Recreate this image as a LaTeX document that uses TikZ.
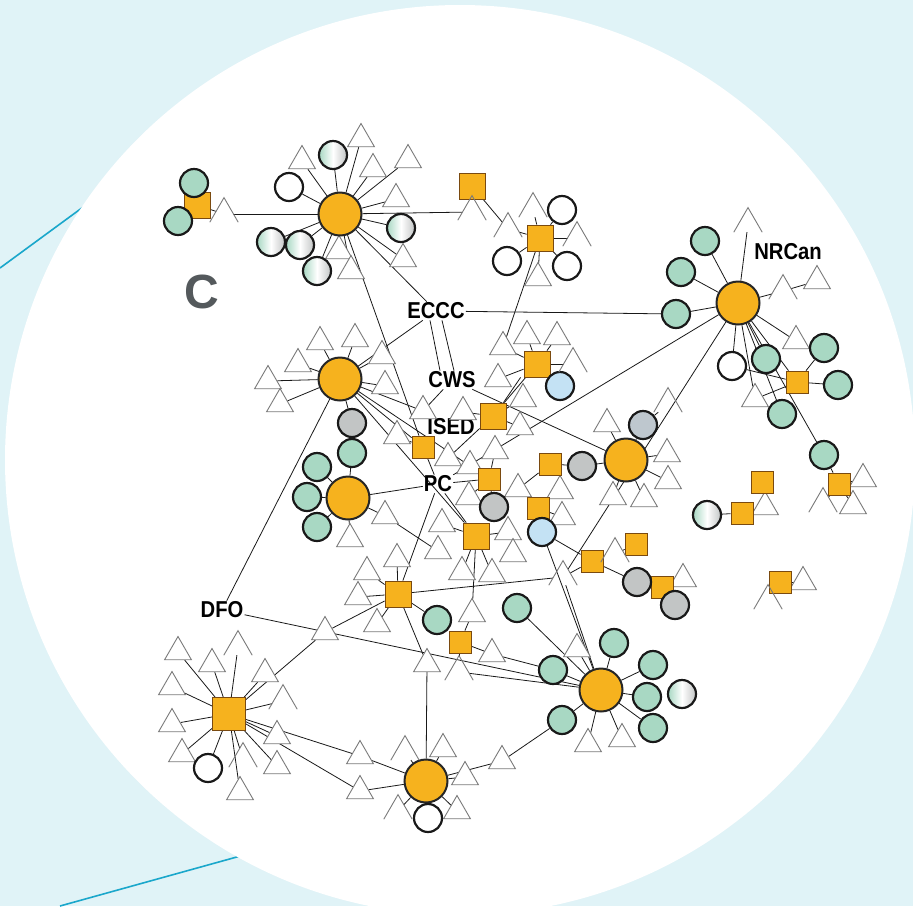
\documentclass[tikz,border=0pt]{standalone}
\usepackage{fontspec}
\setmainfont{Liberation Sans}
\newfontfamily\labfont[FakeStretch=0.88]{Liberation Sans}
\usetikzlibrary{shapes.geometric}
\pgfdeclarelayer{bg}
\pgfdeclarelayer{edges}
\pgfsetlayers{bg,edges,main}
\definecolor{bgblue}{HTML}{E0F3F7}
\definecolor{cyanline}{HTML}{1AA7CB}
\definecolor{orng}{HTML}{F6B21E}
\definecolor{grn}{HTML}{A8D8C3}
\definecolor{gry}{HTML}{C2C5C5}
\definecolor{bgry}{HTML}{BEC7CE}
\definecolor{lblu}{HTML}{C4E2F4}
\definecolor{sqline}{HTML}{7A4A10}
\definecolor{trline}{HTML}{7A7A7A}
\definecolor{cgray}{HTML}{54595C}
\begin{document}
\begin{tikzpicture}[x=1pt,y=-1pt,
  hub/.style={circle,minimum size=43pt,inner sep=0pt,fill=orng,draw=black!85,line width=2pt},
  sq/.style={rectangle,minimum size=22pt,inner sep=0pt,fill=orng,draw=sqline,line width=0.8pt},
  bsq/.style={sq,minimum size=26pt},
  hsq/.style={sq,minimum size=33pt},
  circ/.style={circle,minimum size=28pt,inner sep=0pt,draw=black!90,line width=2.2pt},
  gc/.style={circ,fill=grn},
  wc/.style={circ,fill=white},
  yc/.style={circ,fill=gry},
  bc/.style={circ,fill=bgry},
  lc/.style={circ,fill=lblu},
  hc/.style={circ,left color=grn,right color=gry,middle color=white},
  tri/.style={regular polygon,regular polygon sides=3,minimum size=31pt,inner sep=0pt,fill=white,draw=trline,line width=0.9pt,yshift=-4pt},
  ptri/.style={tri,draw=none,fill=none},
  triline/.style={draw=trline,line width=0.9pt},
  edge/.style={draw=black!90,line width=0.8pt},
  lab/.style={font=\labfont\bfseries\fontsize{23}{23}\selectfont,inner sep=1pt,text=black}
]
\useasboundingbox (0,0) rectangle (913,906);
\clip (0,0) rectangle (913,906);
\begin{pgfonlayer}{bg}
\fill[bgblue] (0,0) rectangle (913,906);
\draw[cyanline,line width=1.6pt] (0,268) -- (90,202);
\draw[cyanline,line width=1.6pt] (60,906) -- (262,850);
\fill[white] (460,460) circle [radius=455pt];
\end{pgfonlayer}

\node[font=\bfseries\fontsize{48}{48}\selectfont,text=cgray] (Clab) at (202,292) {C};

% labels
\node[lab] (ECCC) at (436,311) {ECCC};
\node[lab] (CWS) at (452,380) {CWS};
\node[lab] (ISED) at (451,427) {ISED};
\node[lab] (PC) at (438,484) {PC};
\node[lab] (NRCan) at (788,252) {NRCan};
\node[lab] (DFO) at (222,610) {DFO};

% triangles
\node[tri] (t1) at (361,135) {};
\node[tri] (t2) at (302,157) {};
\node[tri] (t3) at (408,156) {};
\node[tri] (t4) at (373,165) {};
\node[tri] (t5) at (396,195) {};
\node[ptri] (t6) at (224,210) {};
\node[tri] (t7) at (339,247) {};
\node[tri] (t8) at (351,267) {};
\node[tri] (t9) at (403,255) {};
\node[ptri] (ts2) at (472,208) {};
\node[ptri] (t10) at (508,225) {};
\node[ptri] (t11) at (533,205) {};
\node[ptri] (t12) at (577,234) {};
\node[tri] (t13) at (538,274) {};
\node[tri] (t14) at (320,338) {};
\node[tri] (t15) at (355,335) {};
\node[tri] (t16) at (298,360) {};
\node[tri] (t17) at (268,377) {};
\node[tri] (t18) at (280,400) {};
\node[tri] (t19) at (382,352) {};
\node[tri] (t20) at (385,382) {};
\node[tri] (t21) at (423,407) {};
\node[tri] (t22) at (397,432) {};
\node[tri] (t23) at (463,408) {};
\node[tri] (t24) at (527,332) {};
\node[tri] (t25) at (557,333) {};
\node[tri] (t26) at (503,343) {};
\node[ptri] (t27) at (573,360) {};
\node[tri] (t28) at (498,375) {};
\node[tri] (t29) at (523,395) {};
\node[tri] (t30) at (520,423) {};
\node[tri] (t31) at (495,447) {};
\node[tri] (t32) at (470,462) {};
\node[tri] (t33) at (448,454) {};
\node[tri] (t35) at (469,493) {};
\node[tri] (t36) at (442,520) {};
\node[tri] (t37) at (438,547) {};
\node[tri] (t38) at (508,528) {};
\node[tri] (t39) at (397,555) {};
\node[tri] (t40) at (367,568) {};
\node[tri] (t41) at (462,568) {};
\node[tri] (t42) at (492,570) {};
\node[tri] (t43) at (358,593) {};
\node[tri] (t44) at (472,610) {};
\node[tri] (t45) at (385,512) {};
\node[tri] (t46) at (350,535) {};
\node[tri] (t47) at (607,420) {};
\node[ptri] (t48) at (668,400) {};
\node[tri] (t49) at (667,450) {};
\node[tri] (t50) at (668,477) {};
\node[tri] (t51) at (613,493) {};
\node[tri] (t52) at (644,495) {};
\node[tri] (t53) at (518,485) {};
\node[tri] (t54) at (560,487) {};
\node[tri] (t55) at (562,513) {};
\node[tri] (t56) at (513,550) {};
\node[ptri] (t57) at (615,550) {};
\node[ptri] (t58) at (563,573) {};
\node[tri] (t59) at (683,575) {};
\node[tri] (t60) at (765,503) {};
\node[tri] (t61) at (863,475) {};
\node[ptri] (t62) at (823,500) {};
\node[tri] (t63) at (853,502) {};
\node[tri] (t64) at (803,578) {};
\node[ptri] (t65) at (768,597) {};
\node[ptri] (t66) at (748,220) {};
\node[tri] (t67) at (817,277) {};
\node[ptri] (t68) at (783,287) {};
\node[tri] (t69) at (796,337) {};
\node[tri] (t70) at (755,395) {};
\node[tri] (t72) at (492,650) {};
\node[tri] (t73) at (427,660) {};
\node[ptri] (t74) at (459,668) {};
\node[tri] (t75) at (577,645) {};
\node[tri] (t76) at (588,740) {};
\node[tri] (t77) at (622,735) {};
\node[tri] (t78) at (502,757) {};
\node[ptri] (t79) at (405,748) {};
\node[tri] (t80) at (443,745) {};
\node[tri] (t81) at (465,773) {};
\node[tri] (t82) at (457,807) {};
\node[ptri] (t83) at (398,807) {};
\node[tri] (t84) at (178,648) {};
\node[tri] (t85) at (212,660) {};
\node[ptri] (t86) at (238,643) {};
\node[tri] (t87) at (265,670) {};
\node[tri] (t88) at (172,683) {};
\node[ptri] (t89) at (283,697) {};
\node[tri] (t90) at (172,720) {};
\node[tri] (t91) at (182,750) {};
\node[tri] (t92) at (277,732) {};
\node[tri] (t93) at (277,762) {};
\node[ptri] (t94) at (243,755) {};
\node[tri] (t95) at (240,788) {};
\node[tri] (t96) at (325,628) {};
\node[tri] (t97) at (377,620) {};
\node[tri] (t98) at (360,752) {};
\node[tri] (t99) at (360,787) {};

% hubs
\node[hub] (h1) at (340,214) {};
\node[hub] (h2) at (738,303) {};
\node[hub] (h3) at (340,379) {};
\node[hub] (h4) at (626,460) {};
\node[hub] (h5) at (348,498) {};
\node[hub] (h6) at (601,690) {};
\node[hub] (h7) at (426,781) {};

% squares
\node[bsq] (s1) at (197,205) {};
\node[bsq] (s2) at (472,186) {};
\node[bsq] (s3) at (540,238) {};
\node[bsq] (s4) at (537,364) {};
\node[bsq] (s5) at (493,416) {};
\node[sq] (s6) at (423,447) {};
\node[sq] (s7) at (489,479) {};
\node[sq] (s8) at (550,464) {};
\node[sq] (s9) at (538,508) {};
\node[bsq] (s10) at (476,536) {};
\node[bsq] (s11) at (398,594) {};
\node[sq] (s12) at (460,642) {};
\node[sq] (s13) at (592,561) {};
\node[sq] (s14) at (636,544) {};
\node[sq] (s15) at (662,587) {};
\node[sq] (s16) at (797,382) {};
\node[sq] (s17) at (762,482) {};
\node[sq] (s18) at (742,513) {};
\node[sq] (s19) at (839,484) {};
\node[sq] (s20) at (780,582) {};
\node[hsq] (sb) at (229,714) {};

% circles
\node[gc] (g1) at (194,183) {};
\node[gc] (g2) at (178,221) {};
\node[gc] (g3) at (705,241) {};
\node[gc] (g4) at (681,272) {};
\node[gc] (g5) at (676,314) {};
\node[gc] (g6) at (766,359) {};
\node[gc] (g7) at (824,348) {};
\node[gc] (g8) at (838,385) {};
\node[gc] (g9) at (782,414) {};
\node[gc] (g10) at (824,455) {};
\node[gc] (g11) at (352,453) {};
\node[gc] (g12) at (317,467) {};
\node[gc] (g13) at (307,497) {};
\node[gc] (g14) at (317,527) {};
\node[gc] (g15) at (437,620) {};
\node[gc] (g16) at (517,608) {};
\node[gc] (g17) at (614,643) {};
\node[gc] (g18) at (553,670) {};
\node[gc] (g19) at (653,665) {};
\node[gc] (g20) at (647,697) {};
\node[gc] (g21) at (653,728) {};
\node[gc] (g22) at (562,720) {};
\node[wc] (w1) at (289,187) {};
\node[wc] (w2) at (562,210) {};
\node[wc] (w3) at (507,261) {};
\node[wc] (w4) at (567,266) {};
\node[wc] (w5) at (732,366) {};
\node[wc] (w6) at (208,768) {};
\node[wc] (w7) at (428,818) {};
\node[yc] (y1) at (352,423) {};
\node[bc] (y2) at (643,425) {};
\node[yc] (y3) at (582,466) {};
\node[yc] (y4) at (494,507) {};
\node[yc] (y5) at (637,582) {};
\node[yc] (y6) at (675,605) {};
\node[hc] (hc1) at (333,155) {};
\node[hc] (hc2) at (401,228) {};
\node[hc] (hc3) at (271,242) {};
\node[hc] (hc4) at (300,245) {};
\node[hc] (hc5) at (317,271) {};
\node[hc] (hc6) at (707,515) {};
\node[hc] (hc7) at (682,694) {};
\node[lc] (b1) at (560,386) {};
\node[lc] (b2) at (542,532) {};

% partial triangles (no base)
\foreach \n in {t6,ts2,t10,t11,t12,t27,t48,t57,t58,t62,t65,t66,t68,t74,t79,t83,t86,t89,t94}
  \draw[triline] (\n.corner 2) -- (\n.corner 1) -- (\n.corner 3);

\begin{pgfonlayer}{edges}
\foreach \a/\b in {h1/t1,h1/t2,h1/t3,h1/t4,h1/t5,h1/hc1,h1/w1,h1/hc2,h1/hc3,h1/hc4,h1/hc5,h1/t7,h1/t8,h1/t9,h1/t6,h1/ts2,h1/ECCC,h1/s6,
  s1/t6,ts2/s2,s2/t10,t10/s3,s3/t11,s3/w2,s3/t12,s3/w3,s3/w4,s3/t13,s3/t26,
  ECCC/g5,g5/h2,ECCC/h3,CWS/h4,CWS/t21,
  h3/t14,h3/t15,h3/t16,h3/t17,h3/t18,h3/t19,h3/t20,h3/y1,h3/DFO,h3/t21,h3/s6,h3/t32,h3/s10,
  h2/g3,h2/g4,h2/t66,h2/t68,h2/g6,h2/w5,h2/t69,h2/s16,h2/t70,h2/g9,h2/g10,h2/t58,h2/PC,
  t68/t67,s16/g7,s16/g8,s16/w5,s16/t70,g10/s19,s19/t61,s19/t62,s19/t63,
  s17/t60,s18/t60,s18/hc6,s20/t64,s20/t65,
  h4/t47,h4/y2,h4/t49,h4/t50,h4/t51,h4/t52,h4/y3,y3/s8,s8/t53,t48/y2,
  s4/t24,s4/t25,s4/t26,s4/t27,s4/b1,s4/t28,s4/s5,
  s5/t29,s5/t30,s5/t23,s5/t33,
  s6/t22,s6/PC,PC/h5,PC/s11,PC/s7,PC/s10,
  s7/t35,s7/t31,s7/y4,s9/b2,s9/t55,s9/t54,
  s10/t36,s10/t38,s10/t41,s10/t42,s10/t44,t44/s12,
  s11/t39,s11/t40,s11/t43,s11/t96,s11/t97,s11/g15,s11/t73,s11/t58,
  s12/t72,s12/t74,t72/g18,DFO/h6,t74/h6,t73/h7,
  h7/t79,h7/t80,h7/t81,h7/t82,h7/t83,h7/w7,h7/t98,h7/t99,h7/t78,t78/g22,
  h6/g17,h6/g18,h6/g19,h6/g20,h6/g21,h6/g22,h6/t76,h6/t77,h6/t75,h6/t58,h6/b2,h6/g16,
  b2/s13,s13/y5,s13/t57,s13/t58,s15/y6,s15/t59,s15/y5,s14/t57,
  sb/t84,sb/t85,sb/t86,sb/t87,sb/t88,sb/t89,sb/t90,sb/t91,sb/t92,sb/t93,sb/t94,sb/t95,sb/w6,sb/t96,sb/t98,sb/t99,
  h5/g11,h5/g12,h5/g13,h5/g14,h5/t45,h5/t46,t45/t37}
  \draw[edge] (\a) -- (\b);
\draw[edge] ([xshift=-6pt]ECCC.south) -- ([xshift=-12pt]CWS.north);
\draw[edge] ([xshift=6pt]ECCC.south) -- ([xshift=2pt]CWS.north);
\draw[edge] ([xshift=-3pt]s4.south west) -- ([xshift=-3pt]s5.north east);
\end{pgfonlayer}
\end{tikzpicture}
\end{document}
